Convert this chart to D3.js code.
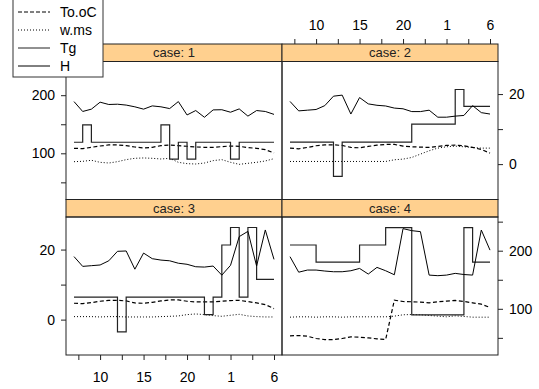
<!DOCTYPE html>
<html>
<head>
<meta charset="utf-8">
<script src="https://cdn.jsdelivr.net/npm/d3@7"></script>
<style>
  body { margin: 0; background: #fff; }
  text { font-family: "Liberation Sans", Arial, sans-serif; fill: #000; }
</style>
</head>
<body>
<svg id="chart" width="539" height="389"></svg>
<script>
// --- data ---
const days = [7, 8, 9, 10, 11, 12, 13, 14, 15, 16, 17, 18, 19, 20, 21, 22, 23, 24, 25, 26, 27, 28, 29, 30];
const dayTicks = [7.5, 10, 12.5, 15, 17.5, 20, 22.5, 25, 27.5, 30];
const dayLabelAt = [10, 15, 20, 25, 30];
const dayLabelText = ["10", "15", "20", "1", "6"];

const caseNames = ["case: 1", "case: 2", "case: 3", "case: 4"];
const seriesNames = ["To.oC", "w.ms", "Tg", "H"];

// one row per case
const toOC = [
  [108.6, 108.0, 110.3, 112.6, 114.4, 114.4, 113.2, 110.9, 109.2, 110.3, 113.2, 114.4, 113.2, 112.1, 110.9, 110.3, 110.3, 111.5, 112.6, 112.1, 109.8, 108.6, 106.3, 100.6],
  [4.57, 4.38, 4.76, 5.24, 5.52, 5.52, 5.33, 4.76, 4.67, 5.05, 5.43, 5.62, 5.62, 5.14, 4.95, 4.86, 4.76, 5.05, 5.33, 5.43, 5.24, 4.76, 4.19, 3.14],
  [4.67, 4.57, 4.86, 5.24, 5.52, 5.52, 5.33, 4.76, 4.67, 4.95, 5.33, 5.62, 5.62, 5.24, 5.05, 5.05, 5.05, 5.24, 5.43, 5.52, 5.14, 4.76, 4.29, 3.14],
  [53.4, 54.0, 52.9, 48.9, 47.1, 47.1, 48.9, 51.7, 51.1, 50.0, 48.3, 47.1, 114.9, 112.6, 112.1, 111.5, 110.3, 112.1, 113.2, 114.4, 112.6, 110.3, 108.0, 102.3]
];
const wms = [
  [85.6, 86.2, 88.0, 84.5, 83.3, 85.6, 89.1, 91.4, 92.0, 91.4, 90.2, 91.4, 84.5, 82.2, 81.6, 83.3, 87.4, 89.1, 84.5, 81.0, 82.8, 84.5, 86.8, 90.8],
  [0.76, 0.76, 0.76, 0.76, 0.76, 0.76, 0.76, 0.76, 0.76, 0.76, 0.76, 0.76, 1.24, 1.43, 1.90, 2.86, 3.81, 4.57, 4.95, 5.14, 4.95, 4.76, 4.57, 4.57],
  [0.86, 0.86, 0.86, 0.76, 0.86, 0.86, 0.76, 0.76, 0.76, 0.76, 0.86, 0.95, 1.05, 1.43, 1.62, 1.43, 1.14, 0.95, 1.24, 1.52, 1.05, 0.86, 0.76, 0.76],
  [85.6, 86.2, 86.2, 85.6, 86.2, 86.2, 85.6, 86.2, 86.2, 86.2, 86.2, 86.2, 87.4, 89.7, 90.2, 89.7, 88.5, 87.4, 86.2, 87.9, 86.8, 85.6, 85.6, 85.6]
];
const tg = [
  [119, 149, 119, 119, 119, 119, 119, 119, 119, 119, 149, 90, 119, 90, 119, 119, 119, 119, 90, 119, 119, 119, 119, 119],
  [6.3, 6.3, 6.3, 6.3, 6.3, -3.5, 6.3, 6.3, 6.3, 6.3, 6.3, 6.3, 6.3, 6.3, 11.4, 11.4, 11.4, 11.4, 11.4, 21.3, 16.5, 16.5, 16.5, 16.5],
  [6.4, 6.4, 6.4, 6.4, 6.4, -3.5, 6.4, 6.4, 6.4, 6.4, 6.4, 6.4, 6.4, 6.4, 6.4, 1.4, 6.4, 21.3, 26.3, 6.4, 26.3, 11.5, 11.5, 11.5],
  [209.8, 209.8, 209.8, 180.5, 180.5, 180.5, 180.5, 180.5, 209.8, 209.8, 209.8, 239.7, 239.7, 239.7, 89.7, 89.7, 89.7, 89.7, 89.7, 89.7, 239.7, 180.5, 180.5, 180.5]
];
const hh = [
  [189, 172, 176, 188, 184, 184.5, 183, 180, 176, 181.6, 180, 177, 189, 166, 173.6, 162, 174.7, 175, 170.7, 176.4, 164, 173.6, 172, 167],
  [17.9, 15.2, 15.4, 15.6, 16.7, 19.4, 19.7, 14.3, 19.0, 17.2, 16.8, 16.6, 16.0, 15.8, 15.0, 15.0, 15.4, 13.4, 13.4, 13.7, 13.9, 16.7, 14.7, 14.3],
  [18.0, 15.2, 15.4, 15.6, 16.8, 19.5, 19.6, 14.4, 19.0, 17.4, 17.0, 16.8, 16.1, 15.8, 15.1, 15.0, 15.3, 12.7, 15.5, 23.7, 25.2, 15.3, 25.6, 17.2],
  [189.7, 163, 166.7, 166.7, 165, 163.8, 163.8, 165.5, 169.5, 159.8, 171.3, 165.5, 158.6, 238, 234.5, 232.8, 158, 157, 158, 161, 159, 158, 235.6, 201]
];

const bigTicks = [50, 100, 150, 200, 250];
const bigLabels = [100, 200];
const smallTicks = [0, 10, 20];
const smallLabels = [0, 20];

// --- layout ---
const svg = d3.select("#chart");
const colX = [66, 282];
const panelW = 216;
const stripTop = [44, 199.5];
const stripH = 17.5;
const panelH = 138;
const font = 14;

const seriesStyle = [
  { dash: "4,2.5", width: 1.2, color: "#000" },
  { dash: "1,2", width: 1, color: "#000" },
  { dash: null, width: 1.2, color: "#222" },
  { dash: null, width: 1, color: "#000" }
];
const seriesCurve = [d3.curveLinear, d3.curveLinear, d3.curveStepAfter, d3.curveLinear];

const x0 = d3.scaleLinear().domain([6.08, 30.92]);
const bigDomain = [20.5, 258];
const smallDomain = [-10.1, 29.3];

// which scale and which outer axes each case gets
const usesBig = [true, false, false, true];
const axisSide = ["left", "right", "left", "right"];

function labelFmt(list) {
  return d => list.includes(d) ? d : "";
}

caseNames.forEach((name, i) => {
  const col = i % 2, row = Math.floor(i / 2);
  const left = colX[col];
  const sTop = stripTop[row];
  const pTop = sTop + stripH;

  const x = x0.copy().range([left, left + panelW]);
  const y = d3.scaleLinear()
    .domain(usesBig[i] ? bigDomain : smallDomain)
    .range([pTop + panelH, pTop]);

  const g = svg.append("g");

  // strip
  g.append("rect")
    .attr("x", left).attr("y", sTop)
    .attr("width", panelW).attr("height", stripH)
    .attr("fill", "#FFD08F").attr("stroke", "#222").attr("stroke-width", 1);
  g.append("text")
    .attr("x", left + panelW / 2).attr("y", sTop + stripH / 2)
    .attr("dy", "0.36em")
    .attr("text-anchor", "middle")
    .style("font-size", "13px")
    .style("fill", "#222")
    .text(name);

  // series
  const rows = [toOC[i], wms[i], tg[i], hh[i]];
  rows.forEach((vals, k) => {
    const line = d3.line()
      .x((d, j) => x(days[j]))
      .y(d => y(d))
      .curve(seriesCurve[k]);
    g.append("path")
      .datum(vals)
      .attr("d", line)
      .attr("fill", "none")
      .attr("stroke", seriesStyle[k].color)
      .attr("stroke-width", seriesStyle[k].width)
      .attr("stroke-dasharray", seriesStyle[k].dash);
  });

  // panel frame
  g.append("rect")
    .attr("x", left).attr("y", pTop)
    .attr("width", panelW).attr("height", panelH)
    .attr("fill", "none").attr("stroke", "#222").attr("stroke-width", 1);

  // y axis on the outer side
  const yt = usesBig[i] ? bigTicks : smallTicks;
  const yl = usesBig[i] ? bigLabels : smallLabels;
  const yAxis = (axisSide[i] === "left" ? d3.axisLeft(y) : d3.axisRight(y))
    .tickValues(yt).tickFormat(labelFmt(yl))
    .tickSize(5).tickPadding(6).tickSizeOuter(0);
  const ya = svg.append("g")
    .attr("transform", `translate(${axisSide[i] === "left" ? left : left + panelW},0)`)
    .call(yAxis);
  ya.select(".domain").remove();
  ya.selectAll("text").style("font-size", font + "px").attr("font-family", null);
  ya.selectAll("line").attr("stroke", "#222");

  // x axis: top over case 2, bottom under case 3
  const fmtX = d => {
    const k = dayLabelAt.indexOf(d);
    return k < 0 ? "" : dayLabelText[k];
  };
  if (i === 1 || i === 2) {
    const xAxis = (i === 1 ? d3.axisTop(x) : d3.axisBottom(x))
      .tickValues(dayTicks).tickFormat(fmtX)
      .tickSize(5).tickPadding(i === 1 ? 9 : 12).tickSizeOuter(0);
    const xa = svg.append("g")
      .attr("transform", `translate(0,${i === 1 ? sTop : pTop + panelH})`)
      .call(xAxis);
    xa.select(".domain").remove();
    xa.selectAll("text").style("font-size", font + "px").attr("font-family", null);
    xa.selectAll("line").attr("stroke", "#222");
  }
});

// legend (drawn last, sits over the first strip)
const leg = svg.append("g");
leg.append("rect")
  .attr("x", 13).attr("y", -1)
  .attr("width", 90).attr("height", 78)
  .attr("fill", "#fff").attr("stroke", "#333").attr("stroke-width", 1);
seriesNames.forEach((s, k) => {
  const cy = 12 + k * 18;
  leg.append("line")
    .attr("x1", 18).attr("x2", 50)
    .attr("y1", cy).attr("y2", cy)
    .attr("stroke", seriesStyle[k].color)
    .attr("stroke-width", 1)
    .attr("stroke-dasharray", seriesStyle[k].dash ? (k === 0 ? "4,2" : "1,2") : null);
  leg.append("text")
    .attr("x", 60).attr("y", cy)
    .attr("dy", "0.36em")
    .style("font-size", "14px")
    .text(s);
});
</script>
</body>
</html>
